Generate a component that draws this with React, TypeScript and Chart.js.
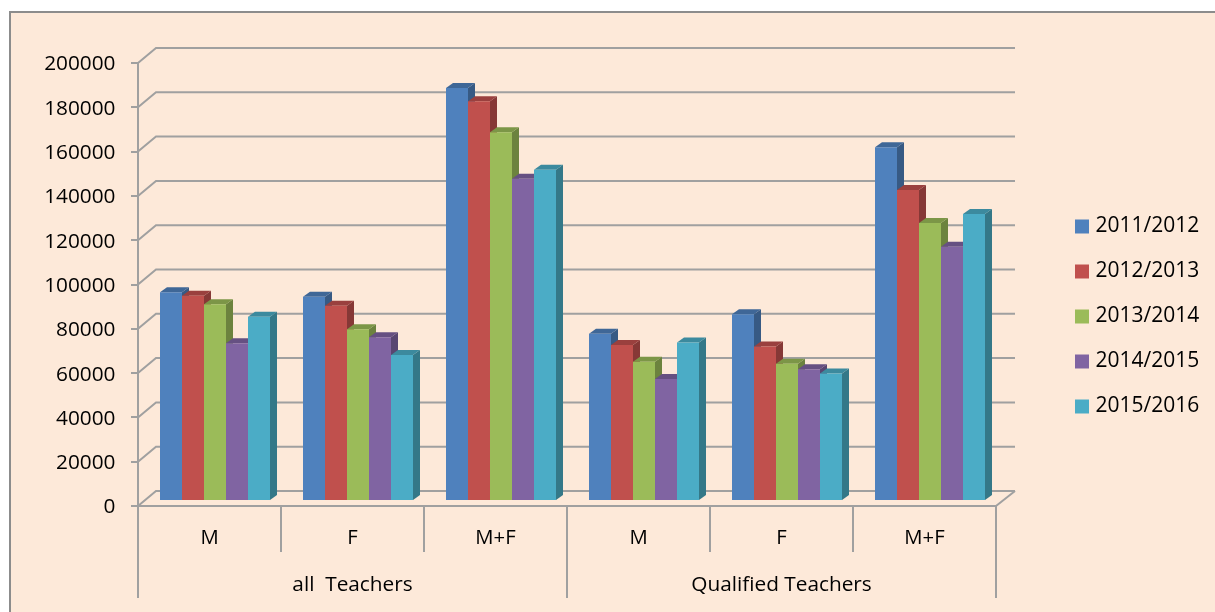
import React, { useEffect, useRef } from "react";
import { Chart, registerables } from "chart.js";

Chart.register(...registerables);

const categories = ["M", "F", "M+F", "M", "F", "M+F"];
const groups = ["all  Teachers", "Qualified Teachers"];
const s2011 = [94200, 92200, 186500, 75500, 84300, 159700];
const s2012 = [92700, 88200, 180500, 70400, 69700, 140400];
const s2013 = [88800, 77500, 166500, 62900, 62000, 125500];
const s2014 = [71200, 73900, 145500, 55100, 59500, 114800];
const s2015 = [83200, 65900, 149500, 71600, 57600, 129600];
const seriesNames = ["2011/2012", "2012/2013", "2013/2014", "2014/2015", "2015/2016"];
const seriesValues = [s2011, s2012, s2013, s2014, s2015];
const faceColors = ["#4F81BD", "#C0504D", "#9BBB59", "#8064A2", "#4BACC6"];
const topColors = ["#3F6797", "#9A403E", "#7C9647", "#665082", "#3C8A9E"];
const sideColors = ["#375A84", "#863836", "#6C833E", "#594671", "#347888"];

const FONT = "'Open Sans'";
const GRID = "#A0A0A0";
const BG = "#FDE9D9";
const DEPTH_X = 18, DEPTH_Y = 15;
const BAR_SHIFT_X = 5.5, BAR_SHIFT_Y = 5;
const BAR_DX = 7, BAR_DY = 5;

const chart3d = {
  id: "chart3d",
  beforeDraw(chart: any) {
    const { ctx, width, height } = chart;
    ctx.save();
    ctx.fillStyle = "#FFFFFF";
    ctx.fillRect(0, 0, width, height);
    ctx.fillStyle = BG;
    ctx.fillRect(10, 12, width, height);
    ctx.strokeStyle = "#8C8C8C";
    ctx.lineWidth = 2;
    ctx.strokeRect(10, 12, width + 10, height + 10);
    ctx.restore();
    const legend = chart.legend;
    legend.left = 1080 - 25;
    legend.right = 1215;
    legend.top = 216 - 24;
    legend.bottom = 612;
  },
  beforeDatasetsDraw(chart: any) {
    const { ctx, chartArea, scales } = chart;
    const left = chartArea.left, right = chartArea.right;
    ctx.save();
    ctx.strokeStyle = GRID;
    ctx.lineWidth = 2;
    for (const tick of scales.y.ticks) {
      const y = scales.y.getPixelForValue(tick.value);
      ctx.beginPath();
      ctx.moveTo(left, y);
      ctx.lineTo(left + DEPTH_X, y - DEPTH_Y);
      ctx.lineTo(right + DEPTH_X + 1, y - DEPTH_Y);
      ctx.stroke();
    }
    const y0 = scales.y.getPixelForValue(0);
    ctx.beginPath();
    ctx.moveTo(right, y0);
    ctx.lineTo(right + DEPTH_X + 1, y0 - DEPTH_Y);
    ctx.stroke();
    ctx.restore();
    ctx.save();
    ctx.translate(BAR_SHIFT_X, -BAR_SHIFT_Y);
    // side and top faces, left to right; the library then paints the front faces over them
    seriesNames.forEach((_, i) => {
      for (const bar of chart.getDatasetMeta(i).data as any[]) {
        const l = bar.x - bar.width / 2;
        const r = bar.x + bar.width / 2;
        const t = bar.y;
        const b = bar.base;
        ctx.fillStyle = sideColors[i];
        ctx.beginPath();
        ctx.moveTo(r, t);
        ctx.lineTo(r + BAR_DX, t - BAR_DY);
        ctx.lineTo(r + BAR_DX, b - BAR_DY);
        ctx.lineTo(r, b);
        ctx.closePath();
        ctx.fill();
        ctx.fillStyle = topColors[i];
        ctx.beginPath();
        ctx.moveTo(l, t);
        ctx.lineTo(l + BAR_DX, t - BAR_DY);
        ctx.lineTo(r + BAR_DX, t - BAR_DY);
        ctx.lineTo(r, t);
        ctx.closePath();
        ctx.fill();
      }
    });
  },
  afterDatasetsDraw(chart: any) {
    chart.ctx.restore();
  },
  beforeLayout(chart: any) {
    const legend = chart.legend;
    if (legend && !legend.__fixed) {
      legend.__fixed = true;
      const fit = legend.fit.bind(legend);
      legend.fit = () => {
        fit();
        legend.width = 219;
      };
    }
  },
};

export default function App() {
  const ref = useRef<HTMLCanvasElement>(null);
  useEffect(() => {
    const chart = new Chart(ref.current as HTMLCanvasElement, {
      type: "bar",
      data: {
        labels: categories,
        datasets: seriesNames.map((name, i) => ({
          label: name,
          data: seriesValues[i],
          backgroundColor: faceColors[i],
          borderWidth: 0,
          categoryPercentage: 110 / 143,
          barPercentage: 1,
          clip: false as any,
        })),
      },
      options: {
        animation: false,
        responsive: false,
        layout: { padding: { left: 0, top: 63, right: 0, bottom: 14 } },
        plugins: {
          title: { display: false },
          tooltip: { enabled: false },
          legend: {
            display: true,
            position: "right",
            align: "start",
            labels: {
              boxWidth: 6,
              boxHeight: 6,
              padding: 24,
              color: "#000000",
              font: { family: FONT, size: 21 },
              generateLabels: (c: any) =>
                c.data.datasets.map((d: any, i: number) => ({
                  text: d.label,
                  fillStyle: faceColors[i],
                  strokeStyle: faceColors[i],
                  lineWidth: 8,
                  datasetIndex: i,
                  fontColor: "#000000",
                })),
            },
          },
        },
        scales: {
          y: {
            min: 0,
            max: 200000,
            afterFit: (s: any) => { s.width = 138; },
            ticks: {
              stepSize: 20000,
              padding: 15.5,
              labelOffset: 1.5,
              color: "#000000",
              font: { family: FONT, size: 20.8 },
              callback: (v: any) => String(v),
            },
            grid: { drawOnChartArea: false, tickLength: 7, color: GRID, lineWidth: 2 },
            border: { display: true, color: GRID, width: 2 },
          },
          x: {
            type: "category",
            position: "bottom",
            weight: 0,
            offset: true,
            afterFit: (s: any) => { s.height = 46; },
            ticks: {
              padding: -26,
              color: "#000000",
              autoSkip: false,
              maxRotation: 0,
              font: { family: FONT, size: 20.3 },
            },
            grid: { offset: true, drawOnChartArea: false, tickLength: 46, color: GRID, lineWidth: 2 },
            border: { display: true, color: GRID, width: 2 },
          },
          x2: {
            type: "category",
            position: "bottom",
            weight: 1,
            offset: true,
            labels: groups,
            afterFit: (s: any) => { s.height = 46; },
            ticks: {
              padding: -25,
              color: "#000000",
              autoSkip: false,
              maxRotation: 0,
              font: { family: FONT, size: 20.8 },
            },
            grid: { offset: true, drawOnChartArea: false, tickLength: 46, color: GRID, lineWidth: 2 },
            border: { display: false },
          },
        },
      } as any,
      plugins: [chart3d],
    });
    return () => chart.destroy();
  }, []);
  return (
    <div style={{ position: "absolute", left: 0, top: 0, width: 1215, height: 612, overflow: "hidden", background: "#fff" }}>
      <canvas
        ref={ref}
        width={1215}
        height={612}
        style={{ display: "block", width: 1215, height: 612, filter: "blur(0.45px)" }}
      />
    </div>
  );
}
